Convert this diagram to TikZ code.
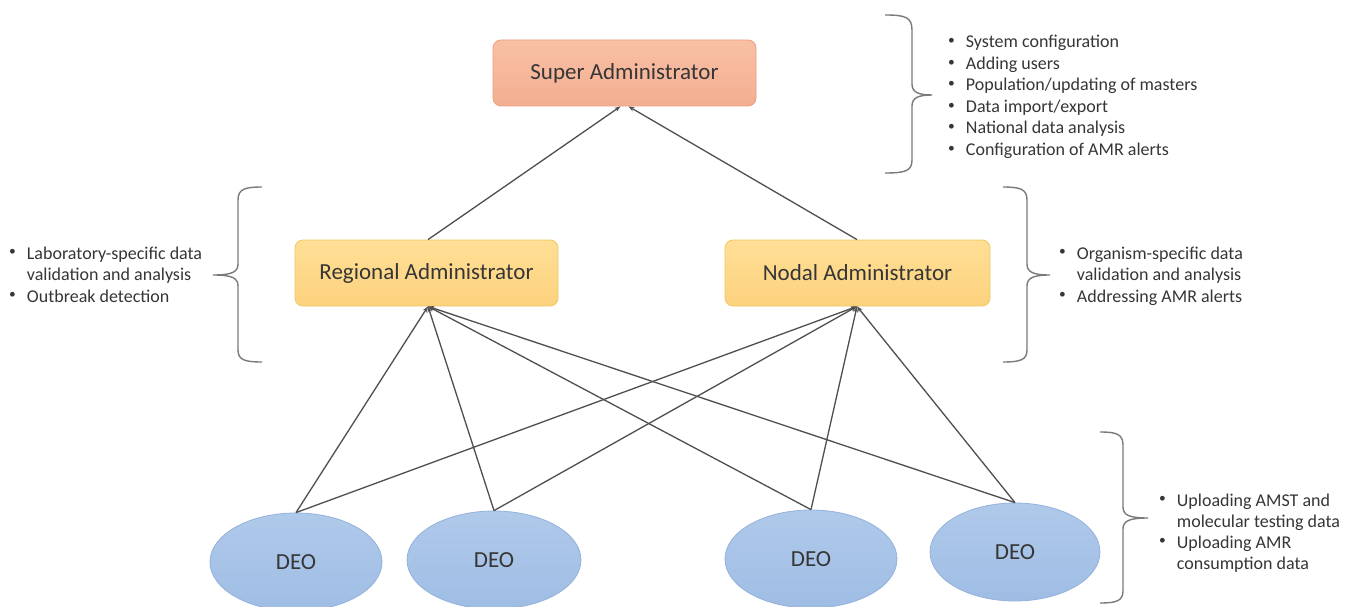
\documentclass[tikz,border=0pt]{standalone}
\usepackage{fontspec}
\setmainfont{Carlito}
\usetikzlibrary{arrows.meta,shapes.geometric}
\definecolor{txt}{HTML}{363636}
\definecolor{supfillT}{HTML}{F9C0A6}
\definecolor{supfillB}{HTML}{F4AE90}
\definecolor{supdraw}{HTML}{EE9E80}
\definecolor{admfillT}{HTML}{FFDF96}
\definecolor{admfillB}{HTML}{FCD27E}
\definecolor{admdraw}{HTML}{F2C764}
\definecolor{deofillT}{HTML}{AFC9EA}
\definecolor{deofillB}{HTML}{9FBDE4}
\definecolor{deodraw}{HTML}{94B2DC}
\definecolor{linec}{HTML}{4F4F4F}
\definecolor{bracec}{HTML}{7A7A7A}
\tikzset{
  adminbox/.style={rectangle, rounded corners=8pt, minimum height=66pt, line width=0.8pt,
    text=txt, font=\fontsize{23}{26}\selectfont, inner sep=0pt},
  superbox/.style={adminbox, draw=supdraw, top color=supfillT, bottom color=supfillB, minimum width=263pt},
  midbox/.style={adminbox, draw=admdraw, top color=admfillT, bottom color=admfillB},
  deo/.style={ellipse, draw=deodraw, line width=0.8pt, top color=deofillT, bottom color=deofillB,
    minimum height=98pt, text=txt, font=\fontsize{23}{26}\selectfont, inner sep=0pt},
  conn/.style={draw=linec, line width=1.3pt, -{Stealth[length=6pt,width=4.5pt]}},
  bracep/.style={draw=bracec, line width=1.4pt},
  bullettext/.style={anchor=base west, inner sep=0pt, text=txt, font=\fontsize{18}{21.5}\selectfont}
}
\newcommand{\bul}{\raisebox{0.35ex}{\scalebox{0.75}{\textbullet}}}
\begin{document}
\begin{tikzpicture}[x=1pt,y=-1pt]
\useasboundingbox[fill=white] (0,0) rectangle (1355,607);

% boxes
\node[superbox] (super) at (624.5,73) {Super Administrator};
\node[midbox, minimum width=263pt] (regional) at (426.5,273) {Regional Administrator};
\node[midbox, minimum width=265pt] (nodal) at (857.5,273) {Nodal Administrator};

% DEOs
\node[deo, minimum width=172pt] (d1) at (296,562) {DEO};
\node[deo, minimum width=174pt] (d2) at (494,560) {DEO};
\node[deo, minimum width=172pt] (d3) at (811,559) {DEO};
\node[deo, minimum width=170pt] (d4) at (1015,552) {DEO};

% connectors
\foreach \d in {d1,d2,d3,d4}{
  \draw[conn] (\d.north) -- ([xshift=1.5pt]regional.south);
  \draw[conn] (\d.north) -- ([xshift=-0.5pt]nodal.south);
}
\draw[conn] ([xshift=1.5pt]regional.north) -- ([xshift=-4pt]super.south);
\draw[conn] ([xshift=-0.5pt]nodal.north) -- ([xshift=4pt]super.south);

% braces
\draw[bracep] (885,15) .. controls (905,15) and (912,17) .. (912,30) -- (912,84)
  .. controls (912,92) and (918,95) .. (932,95)
  .. controls (918,95) and (912,98) .. (912,106) -- (912,160)
  .. controls (912,171) and (905,173) .. (885,173);

\draw[bracep] (262,187) .. controls (245,187) and (238,189) .. (238,200) -- (238,264)
  .. controls (238,272) and (232,275) .. (213,275)
  .. controls (232,275) and (238,278) .. (238,286) -- (238,350)
  .. controls (238,360) and (245,362) .. (262,362);

\draw[bracep] (1003,187) .. controls (1020,187) and (1027,189) .. (1027,200) -- (1027,264)
  .. controls (1027,272) and (1033,275) .. (1050,275)
  .. controls (1033,275) and (1027,278) .. (1027,286) -- (1027,350)
  .. controls (1027,360) and (1020,362) .. (1003,362);

\draw[bracep] (1100,432) .. controls (1116,432) and (1123,434) .. (1123,445) -- (1123,507)
  .. controls (1123,515) and (1129,518) .. (1148,518)
  .. controls (1129,518) and (1123,521) .. (1123,529) -- (1123,591)
  .. controls (1123,601) and (1116,603) .. (1100,603);

% texts
\node[bullettext] (t1) at (948,48) {\begin{tabular}[t]{@{}l@{\hspace{11pt}}l@{}}
\bul & System configuration\\
\bul & Adding users\\
\bul & Population/updating of masters\\
\bul & Data import/export\\
\bul & National data analysis\\
\bul & Configuration of AMR alerts
\end{tabular}};

\node[bullettext] (t2) at (9,259) {\begin{tabular}[t]{@{}l@{\hspace{11pt}}l@{}}
\bul & Laboratory-specific data\\
 & validation and analysis\\
\bul & Outbreak detection
\end{tabular}};

\node[bullettext] (t3) at (1059,259) {\begin{tabular}[t]{@{}l@{\hspace{11pt}}l@{}}
\bul & Organism-specific data\\
 & validation and analysis\\
\bul & Addressing AMR alerts
\end{tabular}};

\node[bullettext, font=\fontsize{18}{21}\selectfont] (t4) at (1159,506) {\begin{tabular}[t]{@{}l@{\hspace{11pt}}l@{}}
\bul & Uploading AMST and\\
 & molecular testing data\\
\bul & Uploading AMR\\
 & consumption data
\end{tabular}};
\end{tikzpicture}
\end{document}
